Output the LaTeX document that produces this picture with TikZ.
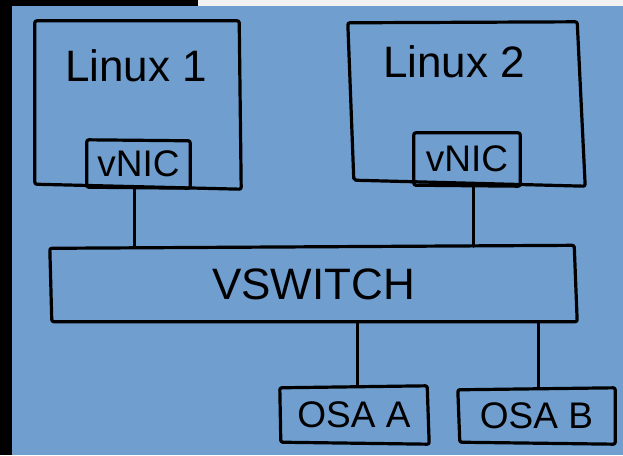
\documentclass[tikz,border=0pt]{standalone}
\usepackage{fontspec}
\setmainfont{Liberation Sans}
\definecolor{bgblue}{RGB}{111,158,207}
\definecolor{stripgrey}{RGB}{242,242,242}
\tikzset{
  box/.style={draw=none, inner sep=0pt},
  sketch/.style={draw=black, line width=3.2pt, rounded corners=2pt, line cap=round, line join=round},
  wire/.style={draw=black, line width=3pt, line cap=round},
  lbl/.style={font=\fontsize{44}{44}\selectfont, inner sep=0pt},
  small/.style={font=\fontsize{37}{37}\selectfont, inner sep=0pt}
}
% hand-drawn outline of a node: four corner offsets (nw, ne, se, sw)
\newcommand{\sketchbox}[5]{%
  \draw[sketch] ([shift={#2}]#1.north west) -- ([shift={#3}]#1.north east)
    -- ([shift={#4}]#1.south east) -- ([shift={#5}]#1.south west) -- cycle;}
\begin{document}
\begin{tikzpicture}[x=1pt,y=-1pt]
  % frame and backdrop
  \fill[black] (0,0) rectangle (623,455);
  \fill[stripgrey] (198,0) rectangle (623,6);
  \fill[bgblue] (12,6) rectangle (623,455);
  \useasboundingbox (0,0) rectangle (623,455);

  % hosts
  \node[box, minimum width=204pt, minimum height=166pt] (linux1) at (137,104) {};
  \node[box, minimum width=237pt, minimum height=164pt] (linux2) at (466.5,104) {};
  \sketchbox{linux1}{(0,0)}{(0,0)}{(2,2)}{(0,-3)}
  \sketchbox{linux2}{(0,1)}{(-8,0)}{(0,0)}{(6,-6)}
  \node[lbl] at (136,66) {Linux 1};
  \node[lbl] at (454,62) {Linux 2};

  % virtual NICs
  \node[box, small, minimum width=103pt, minimum height=47pt] (vnic1) at (138.5,163.5) {vNIC};
  \node[box, small, minimum width=106pt, minimum height=52pt] (vnic2) at (467,159) {vNIC};
  \sketchbox{vnic1}{(0,0)}{(0,1)}{(0,1)}{(0,0)}
  \sketchbox{vnic2}{(0,0)}{(0,0)}{(0,1)}{(0,0)}

  % virtual switch
  \node[box, lbl, minimum width=527pt, minimum height=75pt] (vswitch) at (313.5,284) {VSWITCH};
  \sketchbox{vswitch}{(0,2)}{(-3,-1)}{(0,0)}{(2,0)}

  % OSA adapters
  \node[box, small, minimum width=148pt, minimum height=58pt] (osaa) at (354,415) {OSA A};
  \node[box, small, minimum width=157pt, minimum height=55pt] (osab) at (536.5,415.5) {OSA B};
  \sketchbox{osaa}{(0,2)}{(-1,0)}{(1,0)}{(1,-2)}
  \sketchbox{osab}{(0,2)}{(0,0)}{(0,1)}{(2,-1)}

  % connections
  \draw[wire] ([xshift=-4.5pt]vnic1.south) -- ([xshift=-4.5pt]vnic1.south |- vswitch.north);
  \draw[wire] ([xshift=6pt]vnic2.south) -- ([xshift=6pt]vnic2.south |- vswitch.north);
  \draw[wire] ([xshift=3pt]osaa.north) -- ([xshift=3pt]osaa.north |- vswitch.south);
  \draw[wire] ([xshift=1.5pt]osab.north) -- ([xshift=1.5pt]osab.north |- vswitch.south);
\end{tikzpicture}
\end{document}
